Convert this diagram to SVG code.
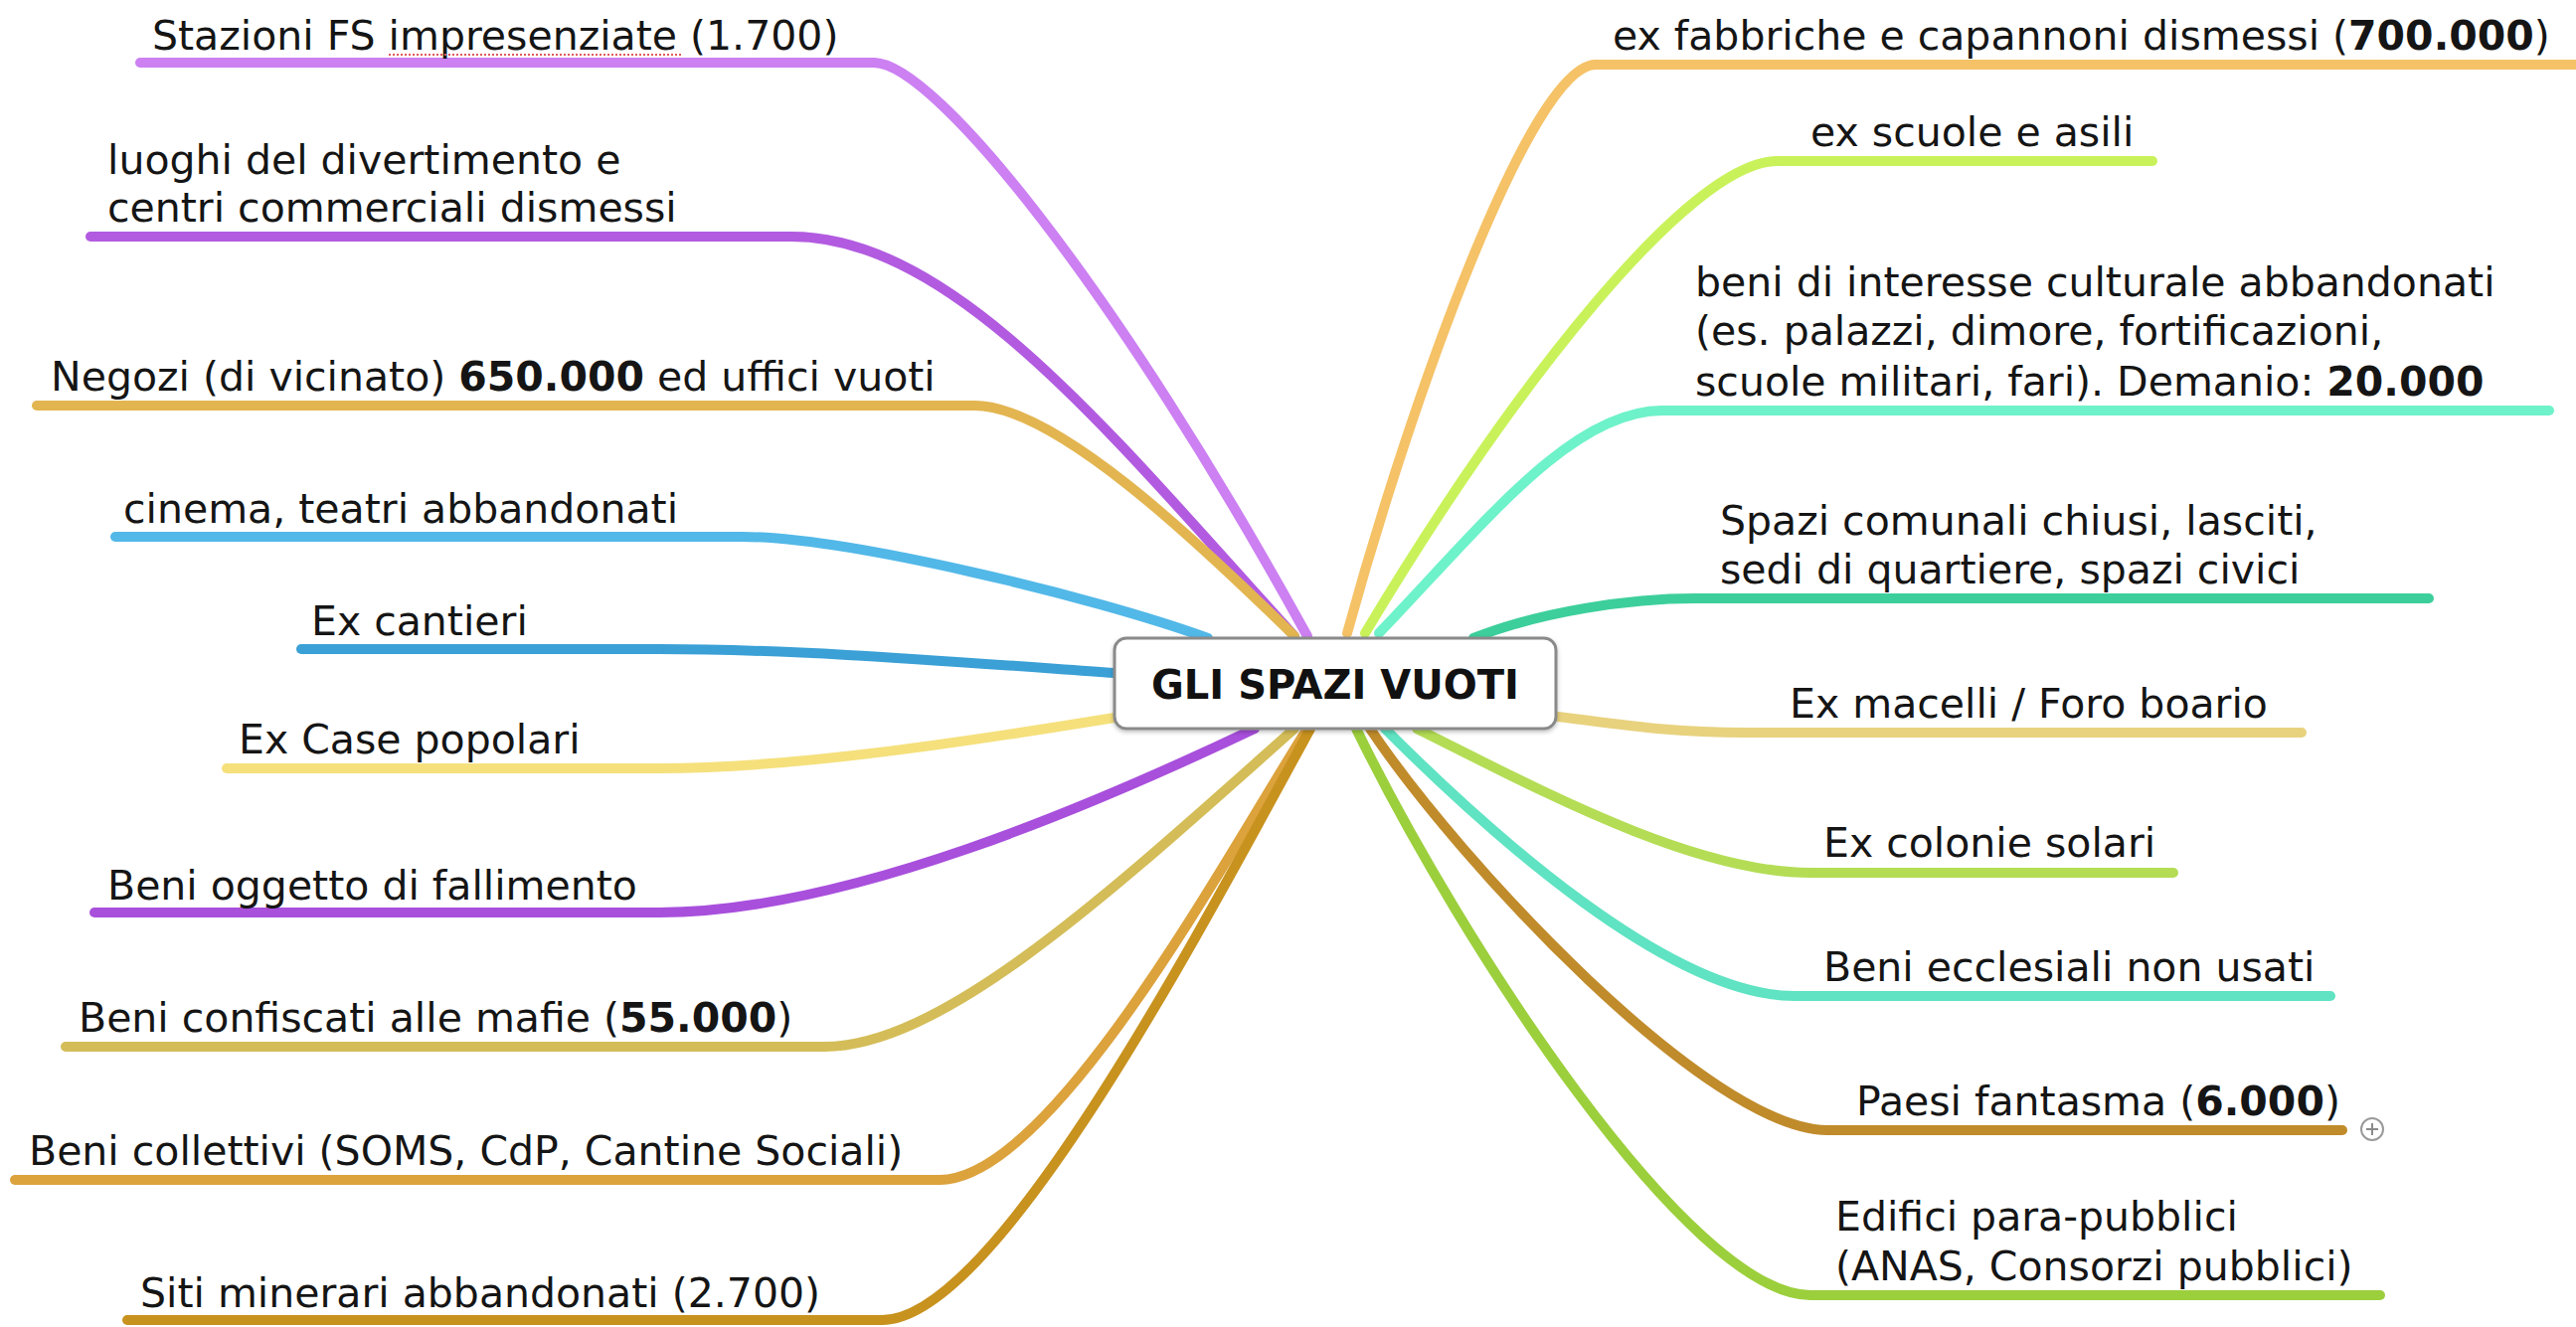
<svg xmlns="http://www.w3.org/2000/svg" width="2591" height="1335" viewBox="0 0 2591 1335">
<style>
  .t { font-family: "DejaVu Sans", "Liberation Sans", sans-serif; font-size: 41px; fill: #151515; }
  .b { font-weight: bold; }
  .c { fill: none; stroke-width: 10; stroke-linecap: round; stroke-linejoin: round; }
  .u { fill: none; stroke-width: 10; stroke-linecap: round; }
  .root-box { fill: #ffffff; stroke: #8a8a8a; stroke-width: 3; }
  .root-t { font-family: "DejaVu Sans", "Liberation Sans", sans-serif; font-size: 40px; font-weight: bold; fill: #111; }
  .k1 { stroke: #cc80f2; } .k2 { stroke: #b25be0; } .k3 { stroke: #e3b550; } .k4 { stroke: #52b8e8; }
  .k5 { stroke: #3aa0d6; } .k6 { stroke: #f5e07c; } .k7 { stroke: #a84fdc; } .k8 { stroke: #d4bd58; }
  .k9 { stroke: #dca23c; } .k10 { stroke: #c8921e; }
  .r1 { stroke: #f5c267; } .r2 { stroke: #c9f25a; } .r3 { stroke: #6ef2c9; } .r4 { stroke: #3dcf9b; }
  .r5 { stroke: #e8d27e; } .r6 { stroke: #b4dd55; } .r7 { stroke: #5fe3c2; } .r8 { stroke: #c08b2b; } .r9 { stroke: #9ccf3c; }
</style>
<defs>
  <filter id="sh" x="-10%" y="-20%" width="120%" height="150%">
    <feDropShadow dx="0" dy="2" stdDeviation="2" flood-color="#000" flood-opacity="0.25"/>
  </filter>
</defs>
<rect width="2591" height="1335" fill="#ffffff"/>

<g id="connectors">
  <path class="c k1" d="M1315,640 C1125,294 940,63 879,63"/>
  <path class="c k2" d="M1302,640 C1120,440 960,238 796,238"/>
  <path class="c k3" d="M1302,640 C1200,540 1060,408 980,408"/>
  <path class="c k4" d="M1215,642 C1100,600 850,540 746,540"/>
  <path class="c k5" d="M1121,677 C950,665 800,653 663,653"/>
  <path class="c k6" d="M1121,722 C980,745 800,773 663,773"/>
  <path class="c k7" d="M1262,733 C1100,810 850,918 663,918"/>
  <path class="c k8" d="M1302,733 C1122,893 950,1053 829,1053"/>
  <path class="c k9" d="M1315,733 C1240,850 1060,1187 945,1187"/>
  <path class="c k10" d="M1318,733 C1200,950 1000,1328 887,1328"/>
  <path class="c r1" d="M1355,637 C1420,400 1540,65 1605,65"/>
  <path class="c r2" d="M1373,637 C1523,387 1700,162 1788,162"/>
  <path class="c r3" d="M1387,637 C1490,530 1580,413 1672,413"/>
  <path class="c r4" d="M1482,642 C1550,615 1640,602 1705,602"/>
  <path class="c r5" d="M1560,720 C1640,730 1680,737 1755,737"/>
  <path class="c r6" d="M1425,733 C1540,790 1700,878 1821,878"/>
  <path class="c r7" d="M1393,733 C1500,840 1680,1002 1805,1002"/>
  <path class="c r8" d="M1378,733 C1470,870 1720,1137 1838,1137"/>
  <path class="c r9" d="M1364,733 C1470,950 1700,1303 1821,1303"/>
</g>

<g id="root">
  <rect class="root-box" x="1121" y="642" width="444" height="91" rx="12" filter="url(#sh)"/>
  <text class="root-t" x="1343" y="703" text-anchor="middle">GLI SPAZI VUOTI</text>
</g>

<g id="n-stazioni">
  <line class="u k1" x1="141" y1="63" x2="879" y2="63"/>
  <text class="t" x="153" y="50">Stazioni FS impresenziate (1.700)</text>
  <line x1="391" y1="55" x2="686" y2="55" stroke="#e05a5a" stroke-width="2" stroke-dasharray="2,2"/>
</g>
<g id="n-luoghi">
  <line class="u k2" x1="91" y1="238" x2="796" y2="238"/>
  <text class="t" x="108" y="175">luoghi del divertimento e</text>
  <text class="t" x="108" y="223">centri commerciali dismessi</text>
</g>
<g id="n-negozi">
  <line class="u k3" x1="37" y1="408" x2="980" y2="408"/>
  <text class="t" x="51" y="393">Negozi (di vicinato) <tspan class="b">650.000</tspan> ed uffici vuoti</text>
</g>
<g id="n-cinema">
  <line class="u k4" x1="116" y1="540" x2="746" y2="540"/>
  <text class="t" x="124" y="526">cinema, teatri abbandonati</text>
</g>
<g id="n-cantieri">
  <line class="u k5" x1="303" y1="653" x2="663" y2="653"/>
  <text class="t" x="313" y="639">Ex cantieri</text>
</g>
<g id="n-case">
  <line class="u k6" x1="228" y1="773" x2="663" y2="773"/>
  <text class="t" x="240" y="758">Ex Case popolari</text>
</g>
<g id="n-fallimento">
  <line class="u k7" x1="95" y1="918" x2="663" y2="918"/>
  <text class="t" x="108" y="905">Beni oggetto di fallimento</text>
</g>
<g id="n-mafie">
  <line class="u k8" x1="66" y1="1053" x2="829" y2="1053"/>
  <text class="t" x="79" y="1038">Beni confiscati alle mafie (<tspan class="b">55.000</tspan>)</text>
</g>
<g id="n-collettivi">
  <line class="u k9" x1="15" y1="1187" x2="945" y2="1187"/>
  <text class="t" x="29" y="1172">Beni collettivi (SOMS, CdP, Cantine Sociali)</text>
</g>
<g id="n-minerari">
  <line class="u k10" x1="128" y1="1328" x2="887" y2="1328"/>
  <text class="t" x="141" y="1315">Siti minerari abbandonati (2.700)</text>
</g>

<g id="n-fabbriche">
  <line class="u r1" x1="1605" y1="65" x2="2600" y2="65"/>
  <text class="t" x="1622" y="50">ex fabbriche e capannoni dismessi (<tspan class="b">700.000</tspan>)</text>
</g>
<g id="n-scuole">
  <line class="u r2" x1="1788" y1="162" x2="2165" y2="162"/>
  <text class="t" x="1821" y="147">ex scuole e asili</text>
</g>
<g id="n-culturali">
  <line class="u r3" x1="1672" y1="413" x2="2564" y2="413"/>
  <text class="t" x="1705" y="298">beni di interesse culturale abbandonati</text>
  <text class="t" x="1705" y="347">(es. palazzi, dimore, fortificazioni,</text>
  <text class="t" x="1705" y="398">scuole militari, fari). Demanio: <tspan class="b">20.000</tspan></text>
</g>
<g id="n-comunali">
  <line class="u r4" x1="1705" y1="602" x2="2443" y2="602"/>
  <text class="t" x="1730" y="538">Spazi comunali chiusi, lasciti,</text>
  <text class="t" x="1730" y="587">sedi di quartiere, spazi civici</text>
</g>
<g id="n-macelli">
  <line class="u r5" x1="1755" y1="737" x2="2315" y2="737"/>
  <text class="t" x="1800" y="722">Ex macelli / Foro boario</text>
</g>
<g id="n-colonie">
  <line class="u r6" x1="1821" y1="878" x2="2186" y2="878"/>
  <text class="t" x="1834" y="862">Ex colonie solari</text>
</g>
<g id="n-ecclesiali">
  <line class="u r7" x1="1805" y1="1002" x2="2344" y2="1002"/>
  <text class="t" x="1834" y="987">Beni ecclesiali non usati</text>
</g>
<g id="n-paesi">
  <line class="u r8" x1="1838" y1="1137" x2="2356" y2="1137"/>
  <text class="t" x="1867" y="1122">Paesi fantasma (<tspan class="b">6.000</tspan>)</text>
  <g id="paesi-expand">
    <circle cx="2386" cy="1136" r="11" fill="#ffffff" stroke="#9a9a9a" stroke-width="2"/>
    <path d="M2380,1136 H2392 M2386,1130 V1142" stroke="#8a8a8a" stroke-width="2" fill="none"/>
  </g>
</g>
<g id="n-parapubblici">
  <line class="u r9" x1="1821" y1="1303" x2="2394" y2="1303"/>
  <text class="t" x="1846" y="1238">Edifici para-pubblici</text>
  <text class="t" x="1846" y="1288">(ANAS, Consorzi pubblici)</text>
</g>
</svg>
